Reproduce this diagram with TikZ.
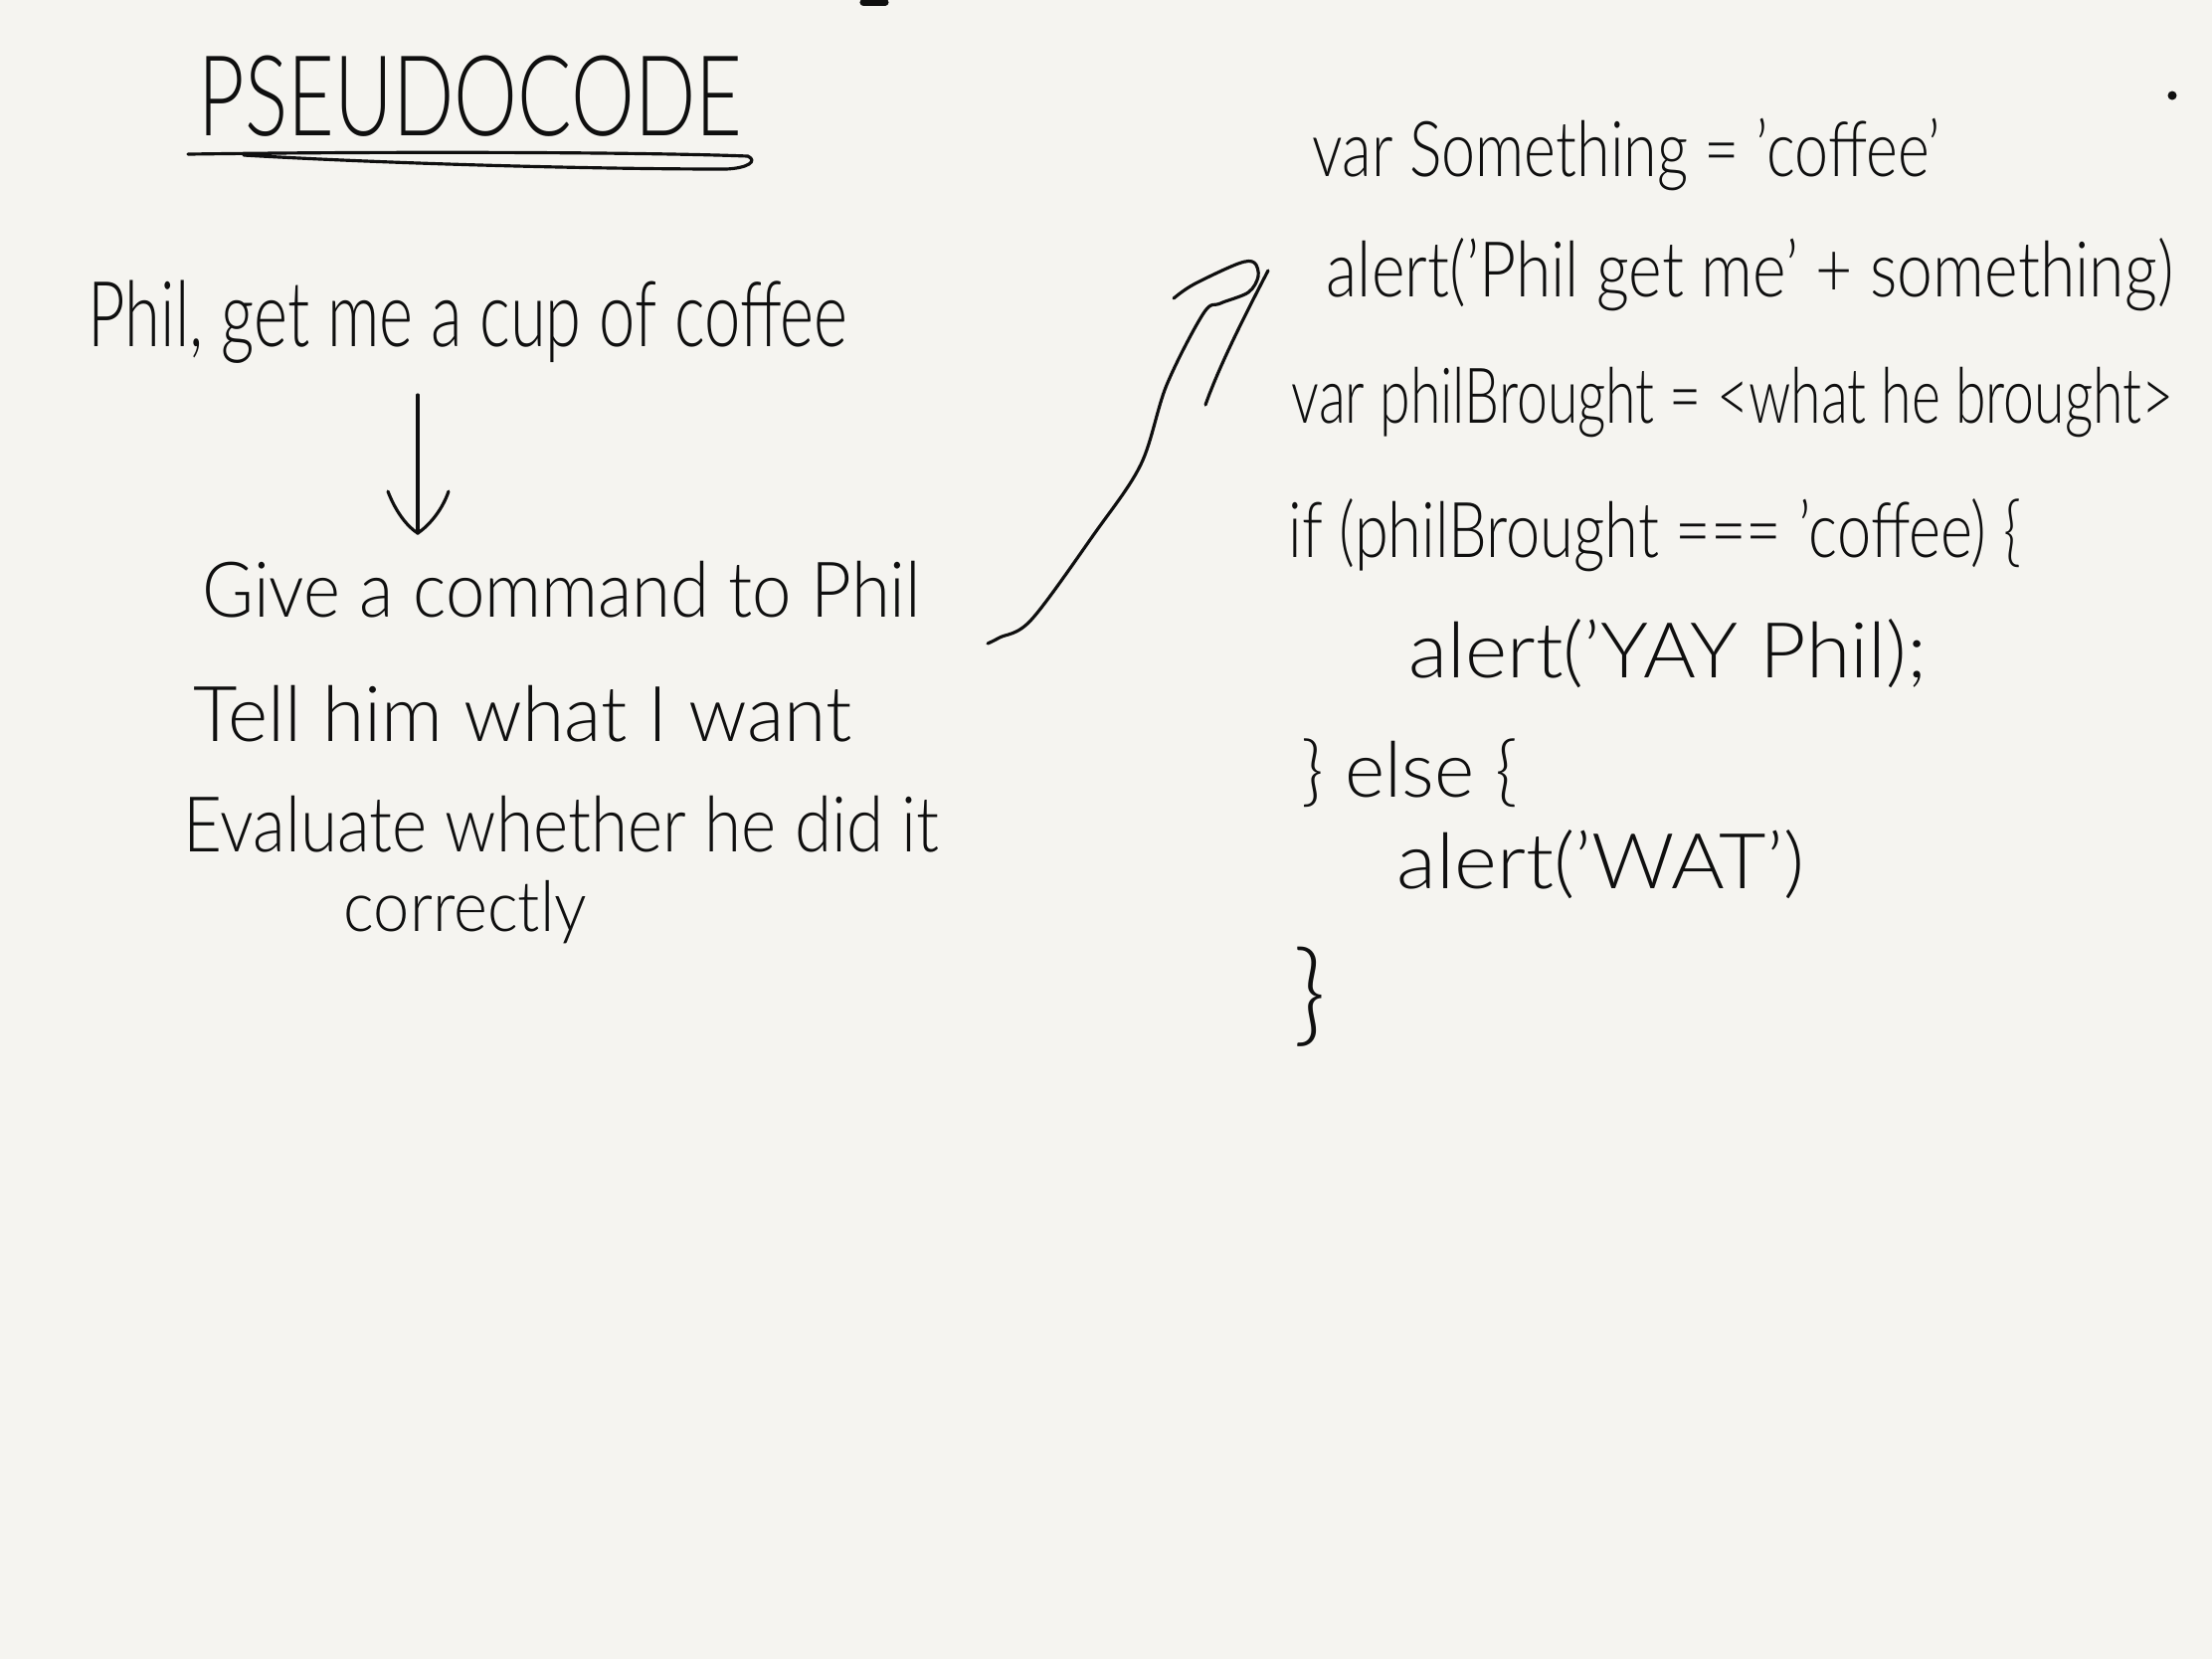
\documentclass[tikz,border=0pt]{standalone}
\usepackage{fontspec}
\setmainfont{Lato Light}
\usepackage{graphicx}
\definecolor{paper}{RGB}{245,244,240}
\definecolor{ink}{RGB}{15,15,15}
% squeeze a line of text to a given width, keeping its height
\newcommand\hwfit[2]{\resizebox{#1}{\height}{#2}}
\tikzset{
  hw/.style={inner sep=0pt, anchor=base west, text=ink, font=\fontsize{22}{26}\selectfont},
  heading/.style={hw, font=\fontsize{32}{36}\selectfont},
  stroke/.style={draw=ink, line width=0.9pt, line cap=round, line join=round},
}
\begin{document}
\begin{tikzpicture}[x=0.01cm,y=-0.01cm]
\fill[paper] (0,0) rectangle (2224,1668);
\useasboundingbox (0,0) rectangle (2224,1668);

% heading and its underline
\node[heading] (title) at (199,136) {\hwfit{5.46cm}{PSEUDOCODE}};
\draw[stroke] (189,155) .. controls (400,152) and (650,153) .. (752,157)
  .. controls (762,162) and (752,169) .. (730,170)
  .. controls (600,170) and (400,165) .. (245,156);

% plain-language steps
\node[hw, font=\fontsize{26}{30}\selectfont] (phil) at (88,348) {\hwfit{7.63cm}{Phil, get me a cup of coffee}};
\node[hw] (give) at (203,620) {\hwfit{7.22cm}{Give a command to Phil}};
\node[hw] (tell) at (194,745) {\hwfit{6.61cm}{Tell him what I want}};
\node[hw] (eval) at (184,856) {\hwfit{7.59cm}{Evaluate whether he did it}};
\node[hw, font=\fontsize{20}{24}\selectfont] (corr) at (345,936) {\hwfit{2.44cm}{correctly}};

% down arrow
\coordinate (dtop) at (420,397);
\coordinate (dtip) at (420,536);
\draw[stroke] (dtop) -- (dtip);
\draw[stroke] (390,494) .. controls (398,515) and (410,530) .. (dtip)
  .. controls (432,528) and (445,512) .. (451,494);

% curved arrow over to the code
\coordinate (cstart) at (993,647);
\draw[stroke] plot[smooth, tension=0.55] coordinates {(cstart) (1005,641) (1037,623) (1100,537) (1147,467)
  (1173,387) (1210,315) (1227,305) (1255,294) (1265,278) (1261,264) (1245,265) (1200,286) (1180,300)};
\draw[stroke] (1275,272) .. controls (1250,320) and (1225,370) .. (1212,407);

% code
\node[hw] (c1) at (1319,177) {\hwfit{6.31cm}{var Something = 'coffee'}};
\node[hw] (c2) at (1333,298) {\hwfit{8.51cm}{alert('Phil get me' + something)}};
\node[hw] (c3) at (1298,425) {\hwfit{8.86cm}{var philBrought = <what he brought>}};
\node[hw] (c4) at (1295,560) {\hwfit{7.36cm}{if (philBrought === 'coffee) \{}};
\node[hw] (c5) at (1416,681) {\hwfit{5.20cm}{alert('YAY Phil);}};
\node[hw] (c6) at (1308,801) {\hwfit{2.17cm}{\} else \{}};
\node[hw] (c7) at (1404,893) {\hwfit{4.09cm}{alert('WAT')}};
\node[hw, font=\fontsize{32}{36}\selectfont] (c8) at (1300,1037) {\hwfit{0.33cm}{\}}};

% stray marks
\fill[ink] (2184,96) circle (4.5);
\draw[stroke, line width=2pt] (868,2) -- (890,2);
\end{tikzpicture}
\end{document}
